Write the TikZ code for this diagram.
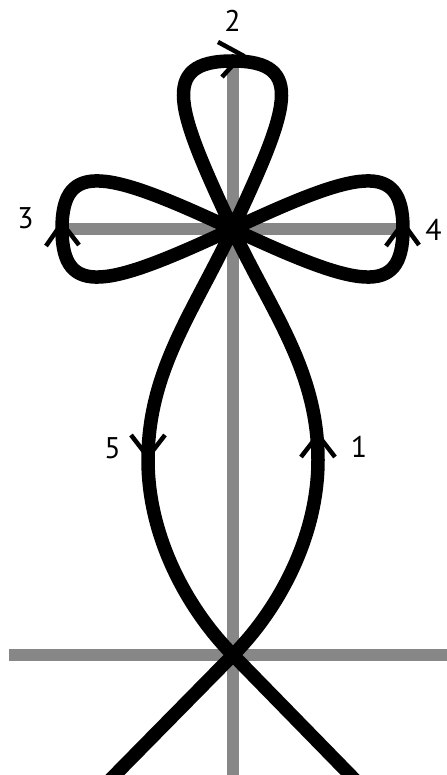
\documentclass[tikz,border=0pt]{standalone}
\usepackage{fontspec}
\setmainfont{PT Sans}
\definecolor{axisgray}{RGB}{135,135,135}
\begin{document}
\begin{tikzpicture}[x=1bp,y=1bp,
  axis/.style={draw=axisgray, line width=12bp},
  strand/.style={draw=black, line width=13.5bp, line join=round},
  chev/.style={draw=black, line width=4.5bp, line join=miter},
  lbl/.style={inner sep=0pt, font=\fontsize{30}{30}\selectfont}]
\useasboundingbox (0,0) rectangle (447,775);
\clip (0,0) rectangle (447,775);
% key points
\coordinate (C0) at (232.5,546);
\coordinate (C1) at (233,120);
\coordinate (T) at (232.5,714);
\coordinate (MR) at (318,315);
\coordinate (ML) at (148,315);
\coordinate (LP) at (62,546);
\coordinate (RP) at (403,546);
\coordinate (BL) at (105,-10);
\coordinate (BR) at (360,-10);
% grey axes
\coordinate (VT) at (232.5,712);
\coordinate (VB) at (232.5,-5);
\coordinate (HL) at (64,546);
\coordinate (HR) at (401,546);
\coordinate (GL) at (9,120);
\coordinate (GR) at (452,120);
\draw[axis] (VT) -- (VB);
\draw[axis] (HL) -- (HR);
\draw[axis] (GL) -- (GR);
% open strand: arcs and top loop
\draw[strand] (BL) -- (C1)
  .. controls +(45:60) and +(0,-80) .. (MR)
  .. controls +(0,90) and +(-65:90) .. (C0)
  .. controls +(115:130) and +(-75,0) .. (T)
  .. controls +(75,0) and +(65:130) .. (C0)
  .. controls +(-115:90) and +(0,90) .. (ML)
  .. controls +(0,-80) and +(135:60) .. (C1) -- (BR);
% closed figure eight: side loops
\draw[strand] (C0)
  .. controls +(205:137) and +(0,-70) .. (LP)
  .. controls +(0,70) and +(155:137) .. (C0)
  .. controls +(-25:137) and +(0,-70) .. (RP)
  .. controls +(0,70) and +(25:137) .. (C0);
% arrow chevrons
\draw[chev] (301,318) -- (318,340) -- (335,318);
\draw[chev] (131,340) -- (148,318) -- (165,340);
\draw[chev] (218,733) -- (242,720) -- (222,698);
\draw[chev] (46,529) -- (62,552) -- (79,530);
\draw[chev] (386,529) -- (403,552) -- (419,530);
% labels
\node[lbl] (n2) at (232.5,754) {2};
\node[lbl] (n3) at (25.5,557) {3};
\node[lbl] (n4) at (433.5,545) {4};
\node[lbl] (n5) at (112.5,327) {5};
\node[lbl] (n1) at (359,328) {1};
\end{tikzpicture}
\end{document}
